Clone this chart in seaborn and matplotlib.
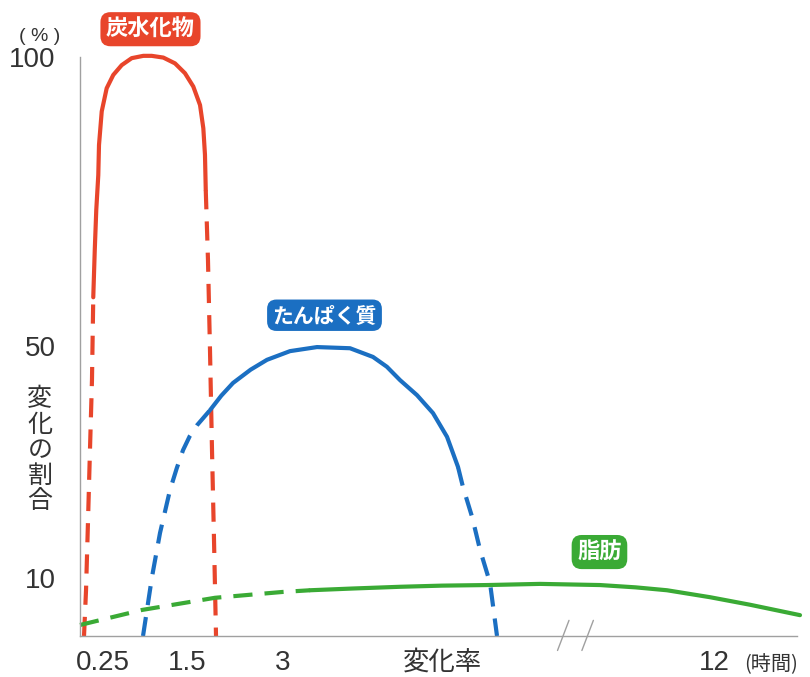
import pandas as pd
import seaborn as sns
import matplotlib.pyplot as plt

# === DATA ===
# x is a position along the broken time axis (0 = y axis, 100 = right end)
carb_x = [0.56, 0.84, 1.12, 1.39, 1.67, 1.85, 2.06, 2.27, 2.55, 2.65, 3.03, 3.72, 4.64, 5.82, 7.21,
          8.83, 10.0, 11.62, 13.25, 14.64, 15.8, 16.74, 17.2, 17.43, 17.54, 17.85, 18.13, 18.41, 18.69, 18.97]
carb_y = [0, 7.9, 20.0, 32.1, 44.2, 58.5, 66.7, 73.6, 79.6, 84.8, 90.6, 94.6, 96.9, 98.6, 99.8,
          100.2, 100.2, 99.9, 98.9, 97.2, 94.9, 91.7, 87.7, 83.1, 77.0, 64.9, 49.4, 32.1, 16.6, 0]
carb_solid = (5, 24)

prot_x = [8.79, 10.04, 11.16, 12.55, 13.5, 14.37, 15.3, 16.32, 18.13, 19.7, 21.34, 23.8, 26.08,
          29.29, 33.05, 37.66, 40.86, 42.8, 44.63, 47.0, 49.23, 51.19, 52.72, 53.42, 54.7,
          55.79, 57.18, 58.16]
prot_y = [0, 10.2, 17.8, 25.2, 29.0, 32.1, 34.5, 36.4, 39.0, 41.5, 43.7, 46.0, 47.7,
          49.2, 49.9, 49.7, 48.2, 46.5, 44.2, 41.6, 38.5, 34.4, 29.2, 25.7, 20.5,
          14.9, 9.2, 0]
prot_solid = (8, 22)

fat_x = [0, 8.65, 18.83, 28.17, 32.08, 38.0, 44.63, 50.5, 56.76, 64.16, 72.52, 77.5,
         81.87, 87.87, 93.44, 100.42]
fat_y = [1.9, 4.5, 6.6, 7.6, 7.9, 8.2, 8.5, 8.7, 8.8, 9.0, 8.8, 8.4,
         7.9, 6.7, 5.4, 3.6]
fat_solid = (4, 15)

series_names = ["炭水化物", "たんぱく質", "脂肪"]
x_tick_pos = [3.2, 14.9, 28.2, 88.4]
x_tick_labels = ["0.25", "1.5", "3", "12"]
y_ticks = [10, 50, 100]
axis_break = 69.2

# === STYLE ===
COLORS = {"炭水化物": "#e8452b", "たんぱく質": "#1b6fc2", "脂肪": "#3aaa35"}
LABEL_POS = {"炭水化物": (9.83, 104.8, 16), "たんぱく質": (34.1, 55.4, 15), "脂肪": (72.45, 14.5, 16)}
GRAY = "#a0a0a0"
TEXT = "#333333"
LW = 3.0
DASH = (0, (4.6, 2.9))
NUM_FONT = ["Liberation Sans", "DejaVu Sans"]


def draw_series(ax, xs, ys, solid, color):
    df = pd.DataFrame({"x": xs, "y": ys})
    a, b = solid
    parts = [(df.iloc[:a + 1], DASH), (df.iloc[a:b + 1], "-"), (df.iloc[b:], DASH)]
    for part, ls in parts:
        sns.lineplot(data=part, x="x", y="y", ax=ax, sort=False, estimator=None,
                     color=color, lw=LW, linestyle=ls, clip_on=False,
                     solid_capstyle="round", solid_joinstyle="round",
                     dash_capstyle="butt", dash_joinstyle="round")


def main():
    sns.set_style("white")
    plt.rcParams["font.family"] = ["Noto Sans CJK JP", "DejaVu Sans"]

    fig = plt.figure(figsize=(8.1, 6.77), dpi=100)
    ax = fig.add_axes([80 / 810, 1 - 636 / 677, (797 - 80) / 810, (636 - 57) / 677])

    data = {"炭水化物": (carb_x, carb_y, carb_solid),
            "たんぱく質": (prot_x, prot_y, prot_solid),
            "脂肪": (fat_x, fat_y, fat_solid)}
    for name in series_names:
        xs, ys, solid = data[name]
        draw_series(ax, xs, ys, solid, COLORS[name])
        lx, ly, fs = LABEL_POS[name]
        ax.text(lx, ly, name, ha="center", va="center", color="white", fontsize=fs,
                fontweight="bold", clip_on=False,
                bbox=dict(boxstyle="round,pad=0.25,rounding_size=0.45",
                          fc=COLORS[name], ec="none"))

    ax.set_xlim(0, 100)
    ax.set_ylim(0, 100)
    ax.set_xticks(x_tick_pos, x_tick_labels)
    ax.set_yticks(y_ticks, [str(v) for v in y_ticks])
    ax.set_xlabel("")
    ax.set_ylabel("")
    sns.despine(ax=ax)
    for s in ["left", "bottom"]:
        ax.spines[s].set_color(GRAY)
        ax.spines[s].set_linewidth(1.0)
    ax.tick_params(axis="x", length=7, width=1, color=GRAY, pad=3,
                   labelsize=20, labelcolor=TEXT, direction="out")
    ax.tick_params(axis="y", length=8.6, width=1, color=GRAY, pad=9,
                   labelsize=20, labelcolor=TEXT, direction="out")
    for lab in ax.get_xticklabels() + ax.get_yticklabels():
        lab.set_fontfamily(NUM_FONT)

    xt = ax.get_xaxis_transform()
    ax.text(50.6, -0.045, "変化率", transform=xt, ha="center", va="center",
            fontsize=19, color=TEXT)
    ax.text(92.6, -0.05, "(時間)", transform=xt, ha="left", va="center",
            fontsize=14.5, color=TEXT)
    ax.text(-5.6, 103.5, "( % )", ha="center", va="center", fontsize=14,
            color=TEXT, clip_on=False, fontfamily=NUM_FONT)
    ax.text(-5.6, 32.1, "\n".join("変化の割合"), ha="center", va="center",
            fontsize=18, color=TEXT, linespacing=0.97, clip_on=False)

    # axis break marks
    for dx in (-1.8, 1.6):
        ax.plot([axis_break + dx - 0.8, axis_break + dx + 0.8], [-0.025, 0.027],
                transform=xt, color=GRAY, lw=1.0, clip_on=False)

    fig.savefig("out.png", dpi=100)
    plt.close(fig)


if __name__ == "__main__":
    main()
